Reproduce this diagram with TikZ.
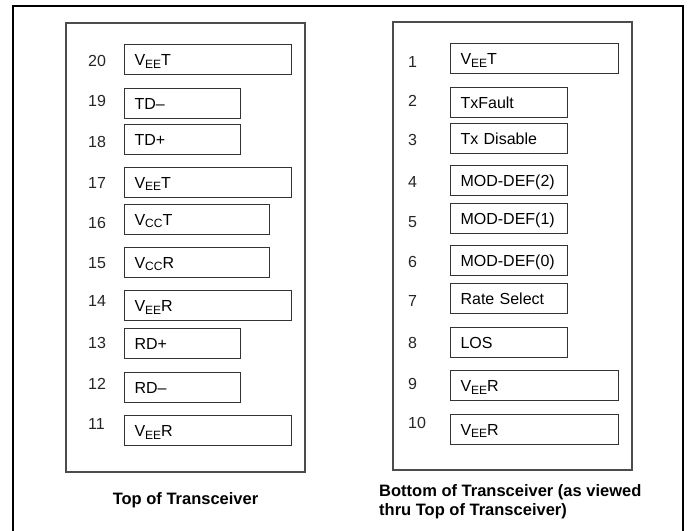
\documentclass[tikz,border=0pt]{standalone}
\usepackage{fontspec}
\setmainfont{Liberation Sans}
\newcommand{\vsub}[2]{V\raisebox{-2.5pt}{\fontsize{12}{12}\selectfont #1}#2}
\begin{document}
\begin{tikzpicture}[x=1pt,y=-1pt,
  frame/.style={draw=black,line width=2pt},
  panel/.style={draw=black!70,line width=1.1pt},
  pinbox/.style={draw=black!80,line width=1.1pt,minimum height=30pt,inner xsep=10pt,inner ysep=0pt,
     anchor=north west,align=left,text height=11.5pt,text depth=0pt,font=\fontsize{16}{16}\selectfont},
  wideL/.style={text width=147pt},
  midL/.style={text width=125pt},
  narrowL/.style={text width=96pt},
  wideR/.style={text width=148pt},
  narrowR/.style={text width=97pt},
  pinnum/.style={anchor=west,inner sep=0pt,font=\fontsize{16}{16}\selectfont,text=black!85},
  caption/.style={inner sep=0pt,font=\fontsize{16.5}{19}\selectfont\bfseries,align=left}]
\useasboundingbox (0,0) rectangle (690,530);
\fill[white] (0,0) rectangle (690,530);
\draw[frame] (13,540) -- (13,6) -- (683,6) -- (683,540);
\draw[panel] (66,23) rectangle (305,472);
\draw[panel] (393,22) rectangle (632,470);
% left column
\node[pinbox,wideL]   (p20) at (124,44.3)  {\vsub{EE}{T}};
\node[pinbox,narrowL] (p19) at (124,88.3)  {TD--};
\node[pinbox,narrowL] (p18) at (124,124.3) {TD+};
\node[pinbox,wideL]   (p17) at (124,166.7) {\vsub{EE}{T}};
\node[pinbox,midL]    (p16) at (124,204)   {\vsub{CC}{T}};
\node[pinbox,midL]    (p15) at (124,246.7) {\vsub{CC}{R}};
\node[pinbox,wideL]   (p14) at (124,290.3) {\vsub{EE}{R}};
\node[pinbox,narrowL] (p13) at (124,327.7) {RD+};
\node[pinbox,narrowL] (p12) at (124,371.7) {RD--};
\node[pinbox,wideL]   (p11) at (124,415.3) {\vsub{EE}{R}};
\node[pinnum] (n20) at (88,61)    {20};
\node[pinnum] (n19) at (88,100.7) {19};
\node[pinnum] (n18) at (88,141.7) {18};
\node[pinnum] (n17) at (88,183)   {17};
\node[pinnum] (n16) at (88,222.7) {16};
\node[pinnum] (n15) at (88,263)   {15};
\node[pinnum] (n14) at (88,301)   {14};
\node[pinnum] (n13) at (88,343)   {13};
\node[pinnum] (n12) at (88,384)   {12};
\node[pinnum] (n11) at (88,424)   {11};
% right column
\node[pinbox,wideR]   (p1)  at (450,43.3)  {\vsub{EE}{T}};
\node[pinbox,narrowR] (p2)  at (450,87.3)  {TxFault};
\node[pinbox,narrowR] (p3)  at (450,123.3) {Tx Disable};
\node[pinbox,narrowR] (p4)  at (450,165.3) {MOD-DEF(2)};
\node[pinbox,narrowR] (p5)  at (450,203.3) {MOD-DEF(1)};
\node[pinbox,narrowR] (p6)  at (450,245.3) {MOD-DEF(0)};
\node[pinbox,narrowR] (p7)  at (450,283.3) {Rate Select};
\node[pinbox,narrowR] (p8)  at (450,326.7) {LOS};
\node[pinbox,wideR]   (p9)  at (450,370.3) {\vsub{EE}{R}};
\node[pinbox,wideR]   (p10) at (450,413.7) {\vsub{EE}{R}};
\node[pinnum] (n1)  at (408,62)    {1};
\node[pinnum] (n2)  at (408,101)   {2};
\node[pinnum] (n3)  at (408,140)   {3};
\node[pinnum] (n4)  at (408,182.3) {4};
\node[pinnum] (n5)  at (408,221.7) {5};
\node[pinnum] (n6)  at (408,262.3) {6};
\node[pinnum] (n7)  at (408,300.7) {7};
\node[pinnum] (n8)  at (408,343.3) {8};
\node[pinnum] (n9)  at (408,384.3) {9};
\node[pinnum] (n10) at (408,423.3) {10};
% captions
\node[caption] (capL) at (185.5,500) {Top of Transceiver};
\node[caption,anchor=north west] (capR) at (379,484) {Bottom of Transceiver (as viewed\\thru Top of Transceiver)};
\end{tikzpicture}
\end{document}
